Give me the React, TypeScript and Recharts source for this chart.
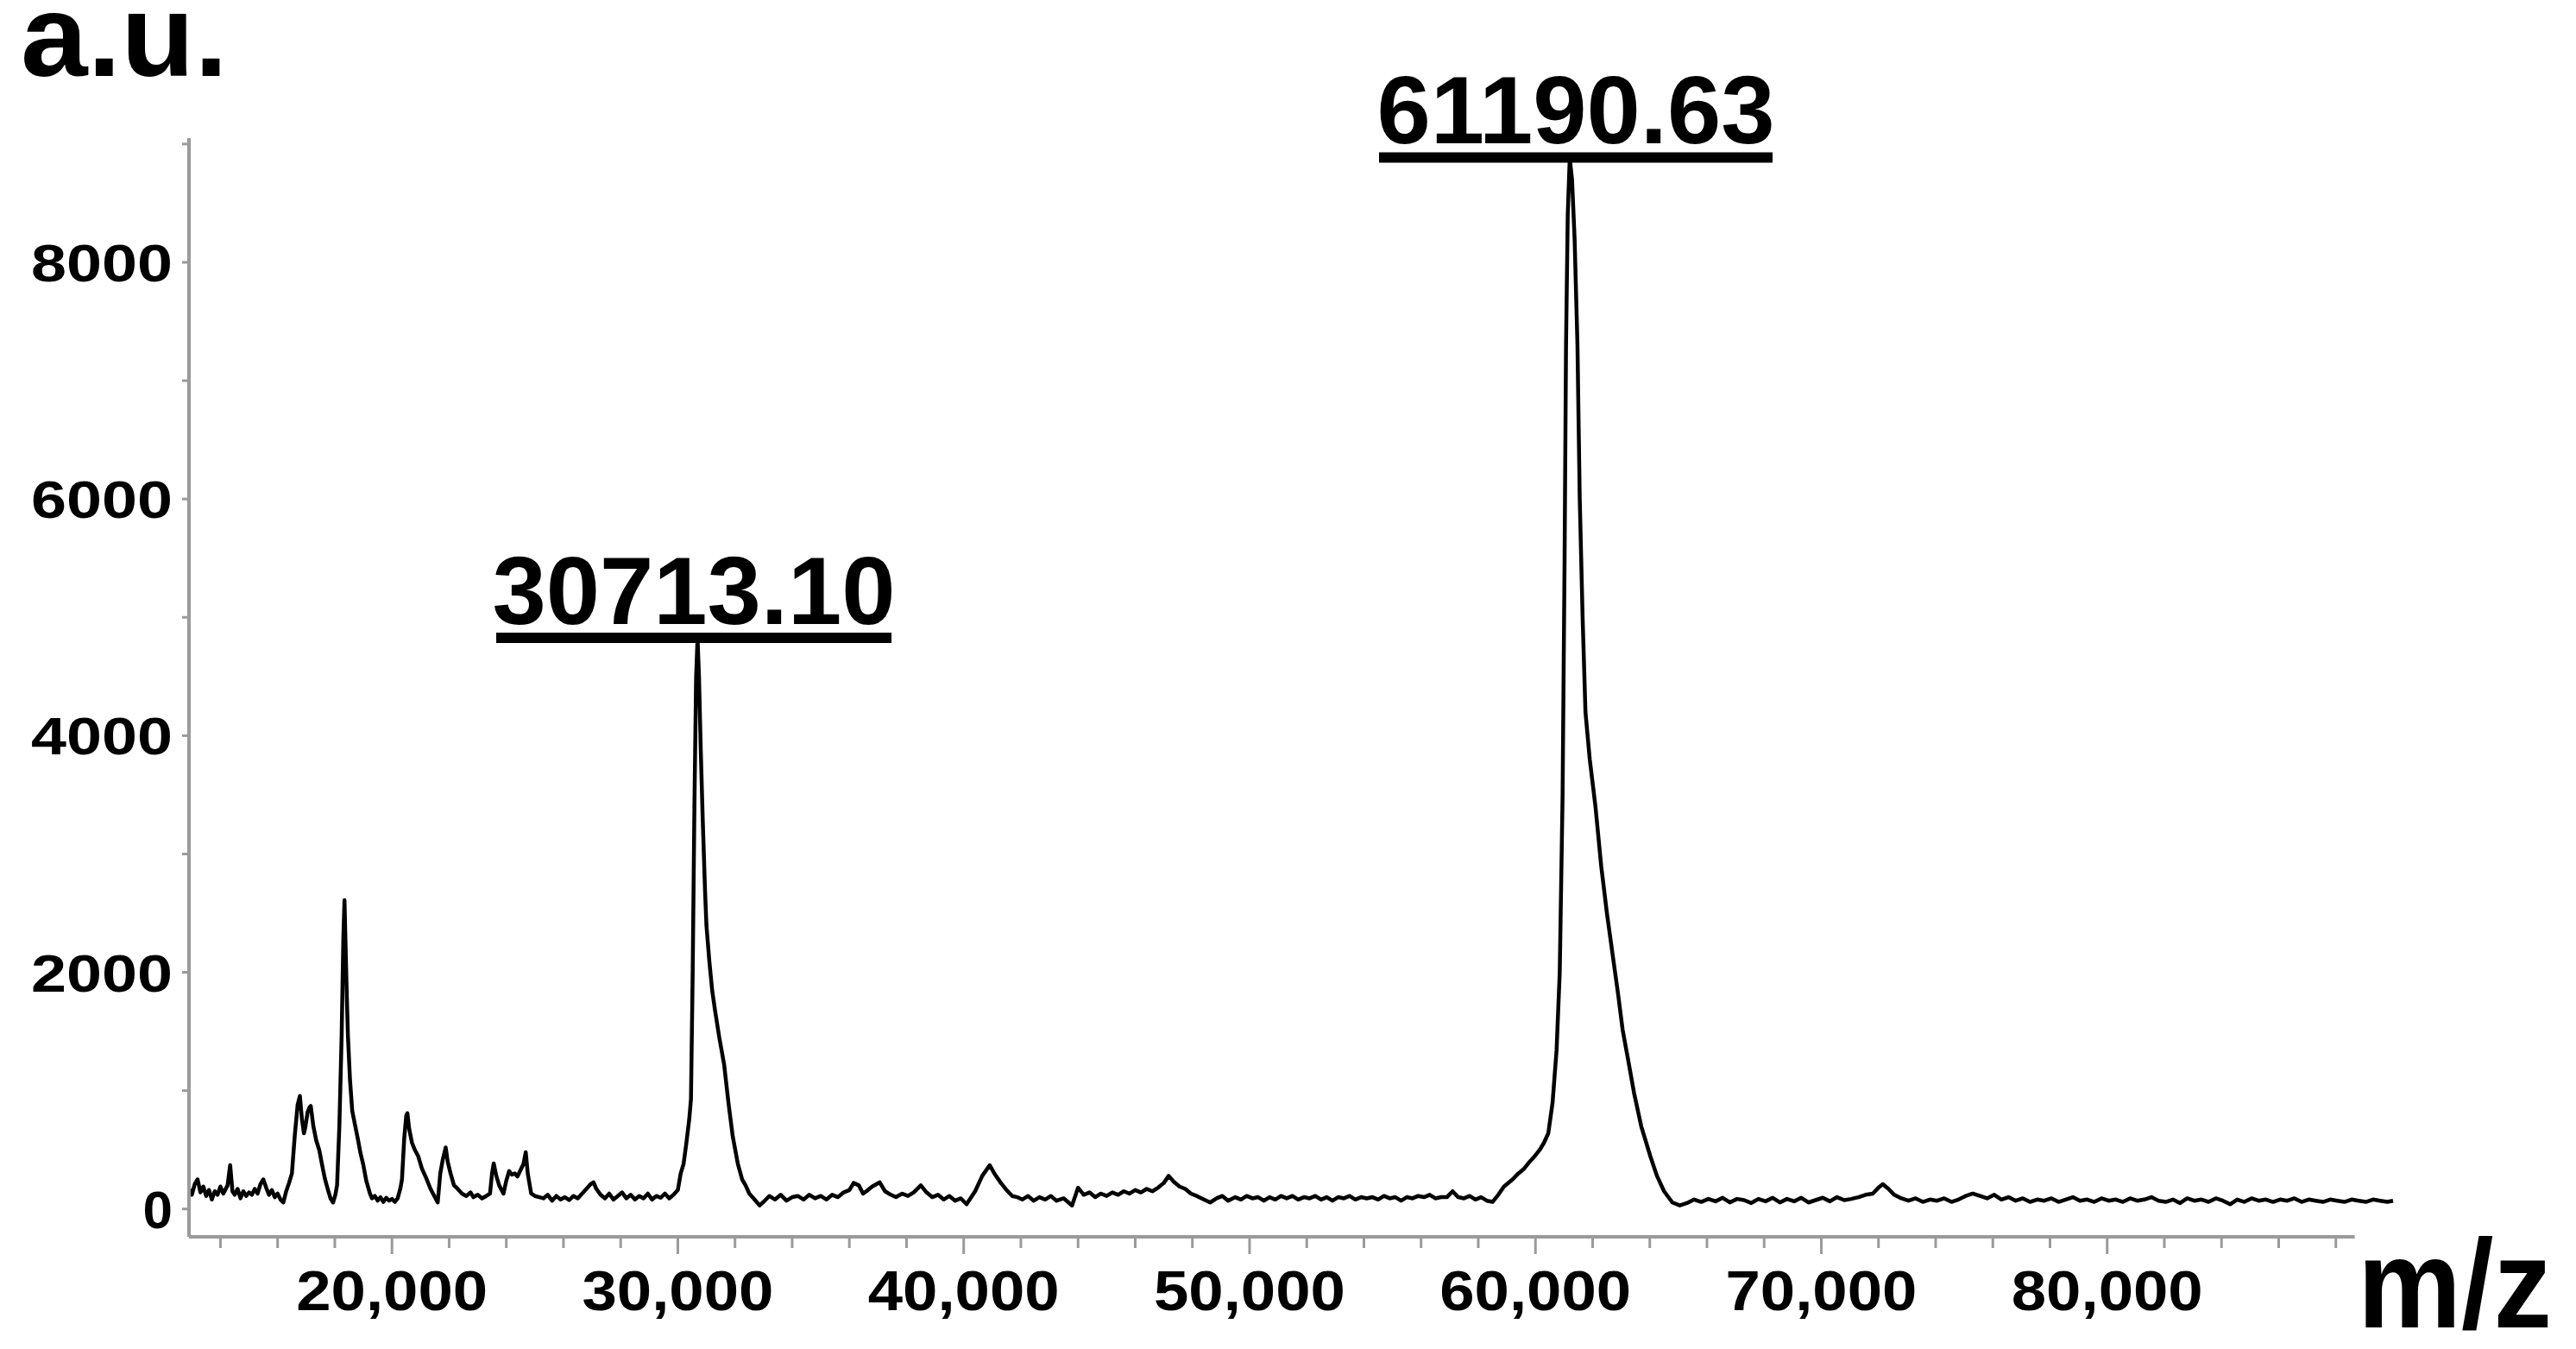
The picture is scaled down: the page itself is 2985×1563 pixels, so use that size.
import React from "react";
import { LineChart, Line, XAxis, YAxis, ReferenceLine } from "recharts";

const FONT = '"Liberation Sans", Arial, Helvetica, sans-serif';

// ---- spectrum: [m/z, intensity (a.u.)] ----
const regionLow: [number, number][] = [
  [12900, 170], [13000, 120], [13100, 210], [13200, 250], [13300, 140], [13400, 190], [13500, 110],
  [13600, 160], [13700, 80], [13800, 150], [13900, 120], [14000, 190], [14100, 130], [14250, 200],
  [14340, 370], [14420, 150], [14500, 120], [14600, 170], [14700, 90], [14800, 150], [14900, 110],
  [15000, 140], [15100, 120], [15200, 170], [15300, 130], [15400, 210], [15500, 250], [15600, 180],
  [15700, 120], [15800, 160], [15900, 100], [16000, 130], [16100, 80], [16200, 55], [16300, 150],
  [16400, 220], [16500, 300],
];

const regionCluster: [number, number][] = [
  [16600, 620], [16700, 880], [16780, 955], [16850, 760], [16920, 640], [16970, 690], [17050, 820],
  [17120, 860], [17160, 870], [17250, 700], [17350, 580], [17460, 495], [17550, 380], [17650, 260],
  [17750, 170], [17850, 90], [17940, 55], [18020, 120], [18080, 200], [18160, 700], [18240, 1465],
  [18300, 2300], [18340, 2610], [18380, 2200], [18420, 1800], [18460, 1465], [18530, 1100],
  [18610, 830], [18700, 720], [18800, 600], [18900, 470], [19000, 370], [19100, 240], [19230, 130],
  [19300, 90], [19400, 110], [19500, 70], [19600, 100], [19700, 60], [19800, 95], [19900, 70],
  [20000, 85], [20100, 60], [20200, 90], [20300, 180], [20350, 250], [20430, 600], [20500, 790],
  [20540, 810], [20600, 680], [20700, 560], [20800, 500], [20920, 445], [21050, 340], [21200, 260],
  [21350, 170], [21500, 100], [21600, 55], [21690, 300], [21780, 420], [21880, 520], [21950, 400],
  [22050, 300], [22170, 200], [22300, 170], [22450, 130], [22600, 110], [22750, 140], [22850, 100],
  [23000, 120], [23150, 90], [23300, 110], [23430, 130], [23500, 300], [23560, 385], [23650, 280],
  [23750, 200], [23900, 130], [24000, 240], [24100, 320], [24200, 290], [24300, 300], [24390, 275],
  [24500, 330], [24600, 380], [24680, 480], [24750, 300], [24870, 130], [25000, 110], [25160, 100],
];

const regionBeforeDimer: [number, number][] = [
  [25300, 90], [25450, 120], [25600, 70], [25750, 110], [25900, 80], [26050, 100], [26200, 75],
  [26350, 110], [26500, 90], [26650, 130], [26800, 170], [26950, 210], [27050, 225], [27150, 170],
  [27300, 120], [27450, 90], [27600, 130], [27750, 80], [27900, 110], [28050, 140], [28200, 90],
  [28350, 120], [28500, 80], [28650, 110], [28800, 90], [28950, 130], [29100, 80], [29250, 110],
  [29400, 95], [29550, 130], [29700, 90], [29850, 120], [30000, 160],
];

const peakHalf: [number, number][] = [
  [30100, 300], [30200, 380], [30300, 560], [30400, 760], [30460, 930], [30520, 2000], [30580, 3400],
  [30640, 4500], [30690, 4820], [30740, 4500], [30800, 3900], [30870, 3300], [30950, 2700],
  [31000, 2400], [31100, 2100], [31200, 1850], [31300, 1680], [31450, 1450], [31620, 1220],
  [31770, 900], [31920, 615], [32100, 380], [32250, 250], [32370, 200], [32500, 130], [32650, 90],
  [32860, 30],
];

const regionMiddle: [number, number][] = [
  [33000, 60], [33200, 110], [33400, 80], [33600, 120], [33800, 70], [34000, 100], [34200, 110],
  [34400, 80], [34600, 120], [34800, 90], [35000, 110], [35200, 80], [35400, 120], [35600, 100],
  [35800, 140], [36000, 160], [36150, 220], [36330, 200], [36480, 130], [36650, 160], [36800, 190],
  [37060, 225], [37250, 150], [37450, 120], [37630, 100], [37850, 130], [38050, 110], [38250, 140],
  [38500, 200], [38700, 140], [38900, 100], [39100, 120], [39300, 80], [39500, 110], [39700, 70],
  [39900, 90], [40100, 40], [40400, 150], [40650, 280], [40910, 370], [41100, 290], [41300, 220],
  [41500, 160], [41700, 110], [41870, 100], [42050, 80], [42250, 110], [42450, 70], [42650, 100],
  [42850, 80], [43050, 110], [43250, 70], [43500, 90], [43790, 30], [44000, 180], [44200, 120],
  [44400, 140], [44600, 100], [44800, 130], [45000, 110], [45200, 140], [45400, 120], [45600, 150],
  [45800, 130], [46000, 160], [46200, 140], [46400, 170], [46600, 150], [46800, 180], [47000, 220],
  [47170, 280], [47350, 230], [47550, 190], [47750, 170], [47950, 130], [48150, 110], [48400, 80],
  [48620, 55], [48850, 90], [49050, 110], [49250, 70], [49500, 100], [49700, 80], [49900, 110],
  [50100, 90], [50300, 100], [50500, 70], [50700, 100], [50900, 80], [51100, 110], [51300, 90],
  [51500, 110], [51700, 80], [51900, 100], [52100, 90], [52300, 110], [52500, 80], [52700, 100],
  [52900, 70], [53100, 100], [53300, 90], [53500, 110], [53700, 80], [53900, 100], [54100, 90],
  [54300, 100], [54500, 80], [54700, 110], [54900, 90], [55100, 100], [55300, 70], [55500, 100],
  [55700, 90], [55900, 110], [56100, 100], [56300, 120], [56500, 90], [56700, 100], [56900, 100],
  [57100, 150], [57300, 100], [57500, 90], [57700, 110], [57900, 80], [58100, 100], [58300, 70],
  [58500, 60],
];

const peakFull: [number, number][] = [
  [58700, 120], [58900, 190], [59200, 250], [59400, 300], [59600, 340], [59800, 400], [59970, 445],
  [60150, 500], [60300, 560], [60450, 640], [60600, 900], [60740, 1345], [60850, 2000], [60950, 3500],
  [61020, 5500], [61070, 7300], [61130, 8400], [61200, 8880], [61280, 8700], [61370, 8200],
  [61470, 7300], [61550, 6000], [61650, 5000], [61750, 4200], [61900, 3800], [62100, 3400],
  [62300, 2900], [62500, 2500], [62700, 2150], [62900, 1800], [63050, 1515], [63250, 1250],
  [63450, 980], [63700, 700], [64020, 445], [64250, 280], [64500, 150], [64790, 55], [65050, 30],
];

const regionTail: [number, number][] = [
  [65300, 50], [65550, 80], [65800, 60], [66050, 85], [66300, 65], [66550, 95], [66800, 55],
  [67050, 85], [67300, 75], [67550, 50], [67800, 85], [68050, 65], [68300, 95], [68550, 55],
  [68800, 85], [69050, 65], [69300, 95], [69550, 55], [69800, 75], [70050, 95], [70300, 65],
  [70550, 100], [70800, 75], [71050, 85], [71300, 100], [71550, 120], [71800, 130], [72000, 180],
  [72150, 210], [72350, 170], [72550, 120], [72800, 90], [73050, 70], [73300, 90], [73550, 60],
  [73800, 80], [74050, 70], [74300, 90], [74550, 60], [74800, 80], [75050, 110], [75300, 130],
  [75550, 110], [75800, 90], [76050, 120], [76300, 80], [76550, 100], [76800, 70], [77050, 90],
  [77300, 60], [77550, 80], [77800, 70], [78050, 90], [78300, 60], [78550, 80], [78800, 100],
  [79050, 70], [79300, 80], [79550, 60], [79800, 90], [80050, 70], [80300, 80], [80550, 60],
  [80800, 90], [81050, 70], [81300, 80], [81550, 100], [81800, 70], [82050, 60], [82300, 80],
  [82550, 50], [82800, 90], [83050, 70], [83300, 80], [83550, 60], [83800, 90], [84050, 70],
  [84300, 40], [84550, 80], [84800, 60], [85050, 90], [85300, 70], [85550, 80], [85800, 60],
  [86050, 80], [86300, 70], [86550, 90], [86800, 60], [87050, 80], [87300, 70], [87550, 60],
  [87800, 80], [88050, 70], [88300, 60], [88550, 80], [88800, 70], [89050, 60], [89300, 80],
  [89550, 70], [89800, 60], [90000, 70],
];

const spectrum = [
  ...regionLow,
  ...regionCluster,
  ...regionBeforeDimer,
  ...peakHalf,
  ...regionMiddle,
  ...peakFull,
  ...regionTail,
].map(([mz, intensity]) => ({ mz, intensity }));

// ---- axes ----
const xDomain: [number, number] = [12900, 90000];
const xAxisEnd = 88660;
const yDomain: [number, number] = [-235, 9050];
const xTicks = [
  14000, 16000, 18000, 20000, 22000, 24000, 26000, 28000, 30000, 32000, 34000, 36000, 38000, 40000,
  42000, 44000, 46000, 48000, 50000, 52000, 54000, 56000, 58000, 60000, 62000, 64000, 66000, 68000,
  70000, 72000, 74000, 76000, 78000, 80000, 82000, 84000, 86000, 88000,
];
const xLabelStep = 10000;
const yTicks = [0, 1000, 2000, 3000, 4000, 5000, 6000, 7000, 8000, 9000];
const yLabelStep = 2000;

// ---- peak annotations ----
const peakLabelTexts = ["30713.10", "61190.63"];
const peakLabelLevels = [4827, 8886];
const peakLabelSpans: [number, number][] = [
  [23647, 37473],
  [54529, 68295],
];

const AXIS_GRAY = "#9a9a9a";

const XTick = (props: any) => {
  const { x, y, payload } = props;
  const v = payload.value as number;
  const major = v % xLabelStep === 0;
  return (
    <g>
      <line x1={x} x2={x} y1={y} y2={y + (major ? 20 : 13)} stroke={AXIS_GRAY} strokeWidth={3} />
      {major && (
        <text
          x={x}
          y={y + 85}
          textAnchor="middle"
          fontFamily={FONT}
          fontWeight="bold"
          fontSize={65}
          textLength={222}
          lengthAdjust="spacingAndGlyphs"
          fill="#000"
        >
          {v.toLocaleString("en-US")}
        </text>
      )}
    </g>
  );
};

const YTick = (props: any) => {
  const { x, y, payload } = props;
  const v = payload.value as number;
  const labeled = v % yLabelStep === 0;
  const s = String(v);
  const stretch = s.length > 1 ? { textLength: 41 * s.length, lengthAdjust: "spacingAndGlyphs" } : {};
  return (
    <g>
      <line x1={x - 8} x2={x} y1={y} y2={y} stroke={AXIS_GRAY} strokeWidth={3} />
      {labeled && (
        <text
          x={x - 19}
          y={y + 22}
          textAnchor="end"
          fontFamily={FONT}
          fontWeight="bold"
          fontSize={62}
          fill="#000"
          {...(stretch as any)}
        >
          {s}
        </text>
      )}
    </g>
  );
};

const peakLabel = (text: string) => (props: any) => {
  const vb = props.viewBox || props;
  return (
    <text
      x={vb.x + vb.width / 2}
      y={vb.y - 16}
      textAnchor="middle"
      fontFamily={FONT}
      fontWeight="bold"
      fontSize={112}
      fill="#000"
    >
      {text}
    </text>
  );
};

const yTitle = (props: any) => {
  const vb = props.viewBox || props;
  return (
    <text
      x={vb.x + 16}
      y={vb.y - 72}
      fontFamily={FONT}
      fontWeight="bold"
      fontSize={136}
      textLength={240}
      lengthAdjust="spacingAndGlyphs"
      fill="#000"
    >
      a.u.
    </text>
  );
};

const xTitle = (props: any) => {
  const vb = props.viewBox || props;
  return (
    <text
      x={vb.x + 2513}
      y={vb.y + 105}
      fontFamily={FONT}
      fontWeight="bold"
      fontSize={146}
      textLength={225}
      lengthAdjust="spacingAndGlyphs"
      fill="#000"
    >
      m/z
    </text>
  );
};

export default function App() {
  return (
    <div style={{ width: 2969, height: 1547, background: "#fff" }}>
      <LineChart
        width={2969}
        height={1547}
        data={spectrum}
        margin={{ top: 152, right: 204, bottom: 0, left: 0 }}
      >
        <XAxis
          dataKey="mz"
          type="number"
          domain={xDomain}
          ticks={xTicks}
          interval={0}
          height={122}
          axisLine={false}
          tickLine={false}
          tickSize={0}
          tickMargin={0}
          tick={<XTick />}
          label={xTitle}
        />
        <YAxis
          type="number"
          domain={yDomain}
          ticks={yTicks}
          interval={0}
          width={211}
          axisLine={{ stroke: AXIS_GRAY, strokeWidth: 4 }}
          tickLine={false}
          tickSize={0}
          tickMargin={0}
          tick={<YTick />}
          label={yTitle}
        />
        <ReferenceLine
          segment={[
            { x: xDomain[0], y: yDomain[0] },
            { x: xAxisEnd, y: yDomain[0] },
          ]}
          stroke={AXIS_GRAY}
          strokeWidth={4}
          ifOverflow="visible"
        />
        <Line
          type="linear"
          dataKey="intensity"
          stroke="#000"
          strokeWidth={4.5}
          strokeLinejoin="round"
          dot={false}
          activeDot={false}
          isAnimationActive={false}
        />
        {peakLabelTexts.map((t, i) => (
          <ReferenceLine
            key={t}
            segment={[
              { x: peakLabelSpans[i][0], y: peakLabelLevels[i] },
              { x: peakLabelSpans[i][1], y: peakLabelLevels[i] },
            ]}
            stroke="#000"
            strokeWidth={12}
            ifOverflow="visible"
            label={peakLabel(t)}
          />
        ))}
      </LineChart>
    </div>
  );
}
